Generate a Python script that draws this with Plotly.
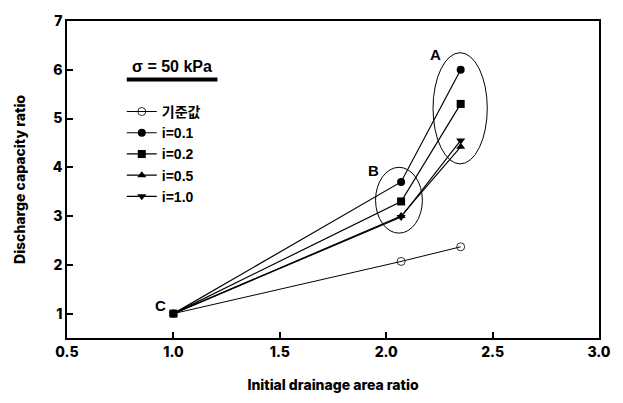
import plotly.graph_objects as go

x_vals = [1.0, 2.07, 2.35]
base_y = [1.0, 2.07, 2.37]
i01_y = [1.0, 3.7, 6.0]
i02_y = [1.0, 3.3, 5.3]
i05_y = [1.0, 3.0, 4.42]
i10_y = [1.0, 2.98, 4.55]
series_names = ["기준값", "i=0.1", "i=0.2", "i=0.5", "i=1.0"]
x_ticks = [0.5, 1.0, 1.5, 2.0, 2.5, 3.0]
x_ticklabels = ["0.5", "1.0", "1.5", "2.0", "2.5", "3.0"]
y_ticks = [1, 2, 3, 4, 5, 6, 7]

font_main = "Liberation Sans, Arial, Noto Sans CJK KR"
font_bold = "Inter, Liberation Sans, Arial"

fig = go.Figure()
fig.add_trace(go.Scatter(x=x_vals[1:], y=base_y[1:], mode="lines+markers", name=series_names[0],
                         line=dict(color="black", width=1),
                         marker=dict(symbol="circle-open", size=8, color="black", line=dict(width=0.8))))
fig.add_trace(go.Scatter(x=x_vals[:2], y=base_y[:2], mode="lines", showlegend=False,
                         line=dict(color="black", width=1)))
specs = [(i01_y, "circle", series_names[1]), (i02_y, "square", series_names[2]),
         (i05_y, "triangle-up", series_names[3]), (i10_y, "triangle-down", series_names[4])]
for ys, sym, nm in specs:
    fig.add_trace(go.Scatter(x=x_vals, y=ys, mode="lines+markers", name=nm,
                             line=dict(color="black", width=1.2),
                             marker=dict(symbol=sym, size=8, color="black")))

fig.add_shape(type="circle", xref="x", yref="y", x0=2.22, x1=2.475, y0=4.07, y1=6.35,
              line=dict(color="black", width=1))
fig.add_shape(type="circle", xref="x", yref="y", x0=1.95, x1=2.17, y0=2.65, y1=4.0,
              line=dict(color="black", width=1))

for txt, ax, ay in [("A", 2.23, 6.32), ("B", 1.94, 3.93), ("C", 0.94, 1.17)]:
    fig.add_annotation(x=ax, y=ay, text=txt, showarrow=False, xref="x", yref="y",
                       font=dict(family=font_main, size=15, color="black", weight=600))

fig.add_annotation(x=(172 - 67) / 534, y=(342 - 59) / 330, xref="paper", yref="paper",
                   xanchor="center", yanchor="middle",
                   text="σ = 50 kPa", showarrow=False,
                   font=dict(family=font_main, size=16, color="black", weight=600))
fig.add_shape(type="line", xref="paper", yref="paper",
              x0=(127 - 67) / 534, x1=(218 - 67) / 534, y0=(342 - 73) / 330, y1=(342 - 73) / 330,
              line=dict(color="black", width=4))

fig.update_layout(
    width=623, height=403,
    margin=dict(l=67, r=22, t=12, b=61),
    plot_bgcolor="white", paper_bgcolor="white",
    font=dict(family=font_main, color="black"),
    showlegend=True,
    legend=dict(x=(122 - 67) / 534, y=(342 - 90) / 330, xanchor="left", yanchor="top",
                bgcolor="rgba(0,0,0,0)", font=dict(size=14, family=font_main, weight=600),
                itemwidth=30, tracegroupgap=0),
    xaxis=dict(range=[0.5, 3.0], tickvals=x_ticks, ticktext=x_ticklabels,
               ticks="inside", ticklen=6, tickwidth=1.5, tickcolor="black",
               showline=True, linecolor="black", linewidth=1.5, mirror=True,
               showgrid=False, zeroline=False,
               tickfont=dict(size=14, family=font_bold, weight=800),
               title=dict(text="Initial drainage area ratio",
                          font=dict(size=14, family=font_bold, weight=800), standoff=22)),
    yaxis=dict(range=[0.5, 7.0], tickvals=y_ticks,
               ticks="inside", ticklen=6, tickwidth=1.5, tickcolor="black",
               showline=True, linecolor="black", linewidth=1.5, mirror=True,
               showgrid=False, zeroline=False,
               tickfont=dict(size=14, family=font_bold, weight=800),
               title=dict(text="Discharge capacity ratio",
                          font=dict(size=14, family=font_bold, weight=800), standoff=24)),
)

fig.write_html("out.html")
